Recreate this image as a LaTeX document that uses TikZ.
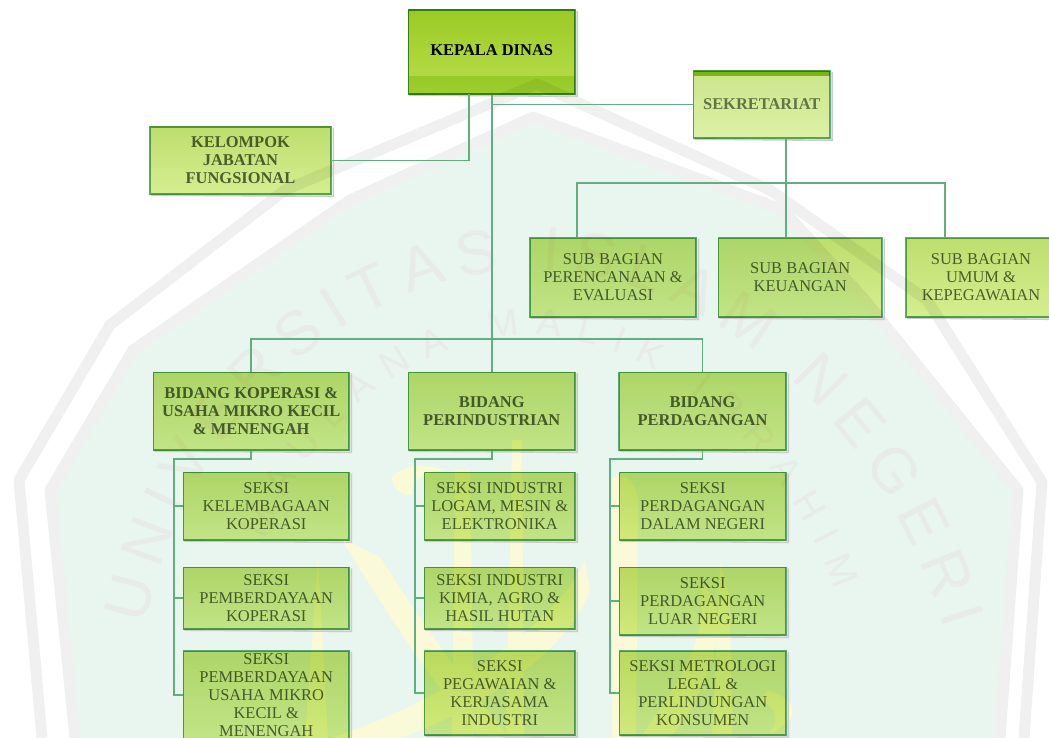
\documentclass[tikz,border=0pt]{standalone}
\usepackage{fontspec}
\setmainfont{Liberation Serif}
\setsansfont{Liberation Sans}
\usepackage{tikz}
\usetikzlibrary{decorations.text,calc}
\definecolor{lineGreen}{HTML}{62AE80}
\definecolor{boxTop}{HTML}{BEDE6F}
\definecolor{boxBottom}{HTML}{D5EE90}
\definecolor{boxText}{HTML}{5E6957}
\definecolor{markGray}{HTML}{EFF0EF}
\definecolor{markFill}{HTML}{E9F5EF}
\definecolor{markYellow}{HTML}{FBFAD8}
\definecolor{markText}{HTML}{E8ECE9}
\definecolor{KepalaTop}{HTML}{9BCA24}
\definecolor{KepalaBottom}{HTML}{B9DE4C}
\definecolor{KepalaLine}{HTML}{4A9E50}

\begin{document}
\begin{tikzpicture}[x=0.25mm,y=-0.25mm]
	\tikzstyle{Box}		= [rectangle, blend mode=multiply, draw=lineGreen, line width=0.35mm, top color=boxTop, bottom color=boxBottom, text=boxText, align=center, inner sep=0pt, font=\fontsize{11.7}{12.8}\selectfont, append after command={\pgfextra{\draw[gray!40, line width=0.4mm] ([shift={(0.4mm,-0.1mm)}]\tikzlastnode.south west) -- ([shift={(0.4mm,-0.4mm)}]\tikzlastnode.south west -| \tikzlastnode.east) -- ([shift={(0.4mm,-0.4mm)}]\tikzlastnode.north east);}}]
	\tikzstyle{Head}	= [Box, font=\fontsize{11.7}{12.8}\selectfont\bfseries]
	\tikzstyle{Chief}	= [Head, text=black, draw=KepalaLine, top color=KepalaTop, bottom color=KepalaBottom]
	\tikzstyle{Wire}	= [line width=0.38mm, lineGreen]
	\tikzstyle{Band}	= [markGray, line width=2.75mm, line join=round]

	\clip (0,0) rectangle (1049,738);

	% watermark
	\fill[markFill] (75,738) -- (50,490) -- (133,350) -- (350,200) -- (533,117) -- (783,210) -- (865,300) -- (1018,490) -- (1000,738) -- cycle;
	\draw[Band] (42,738) -- (19,480) -- (110,325) -- (285,190) -- (537,84) -- (770,190) -- (927,300) -- (1042,482) -- (1024,738);
	\draw[Band] (75,738) -- (50,490) -- (133,350) -- (350,200) -- (533,117) -- (783,210) -- (865,300) -- (1018,490) -- (1000,738);
	\path[decorate, decoration={text along path, text align={fit to path}, text={|\sffamily\fontsize{44}{44}\selectfont\color{markText}|UNIVERSITAS ISLAM NEGERI}}] (145,625) .. controls (200,370) and (400,265) .. (540,270) .. controls (720,280) and (880,420) .. (945,630);
	\path[decorate, decoration={text along path, text align={fit to path}, text={|\sffamily\fontsize{27}{27}\selectfont\color{markText}|MAULANA MALIK IBRAHIM}}] (265,540) .. controls (310,420) and (420,335) .. (530,335) .. controls (660,340) and (780,440) .. (835,590);
	\fill[markYellow] (340,537) -- (380,557) .. controls (420,620) and (470,690) .. (510,738) -- (480,738) .. controls (430,680) and (385,610) .. (340,537) -- cycle;
	\fill[markYellow] (318,557) -- (328,738) -- (305,738) -- cycle;
	\fill[markYellow] (392,478) .. controls (405,462) and (425,465) .. (445,470) .. controls (425,472) and (410,480) .. (412,495) .. controls (400,495) and (392,488) .. (392,478) -- cycle;
	\fill[markYellow] (455,470) -- (470,470) -- (474,738) -- (452,738) -- cycle;
	\fill[markYellow] (512,440) -- (522,440) -- (524,738) -- (506,738) -- cycle;
	\fill[markYellow] (610,480) .. controls (625,470) and (635,480) .. (638,500) -- (636,738) -- (612,738) -- cycle;
	\fill[markYellow] (720,563) -- (730,600) -- (732,738) -- (712,738) -- cycle;
	\fill[markYellow] (330,738) .. controls (450,700) and (560,620) .. (585,560) -- (590,590) .. controls (570,650) and (480,710) .. (400,738) -- cycle;
	\fill[markYellow] (640,738) .. controls (680,680) and (710,640) .. (700,580) -- (715,600) .. controls (725,650) and (700,700) .. (670,738) -- cycle;
	\fill[markYellow] (760,700) .. controls (775,705) and (780,720) .. (770,733) .. controls (790,725) and (810,705) .. (768,690) -- cycle;

	\node (kepala) at (491.75,52) [Chief, minimum width=41.6mm, minimum height=21mm, path picture={\fill[white!45!KepalaBottom] (path picture bounding box.south west) rectangle ([yshift=4.5mm]path picture bounding box.south east);}] {\raisebox{0.9mm}{KEPALA DINAS}};
	\node (sekretariat) at (761.75,104.5) [Head, text=boxText!85, minimum width=34.1mm, minimum height=16.75mm, top color=boxTop!80!white, bottom color=boxBottom!80!white, path picture={\fill[KepalaTop] (path picture bounding box.north west) rectangle ([yshift=-1.25mm]path picture bounding box.north east);}] {SEKRETARIAT};
	\node (kelompok) at (240.5,160.5) [Head, minimum width=45.25mm, minimum height=16.75mm] {KELOMPOK\\JABATAN\\FUNGSIONAL};

	\node (perencanaan) at (613,277.5) [Box, minimum width=41.5mm, minimum height=19.75mm] {SUB BAGIAN\\PERENCANAAN \&\\EVALUASI};
	\node (keuangan) at (800.25,277.5) [Box, minimum width=40.9mm, minimum height=19.75mm] {SUB BAGIAN\\KEUANGAN};
	\node (umum) at (981,277.5) [Box, minimum width=37.5mm, minimum height=19.75mm] {SUB BAGIAN\\UMUM \&\\KEPEGAWAIAN};

	\node (koperasi) at (251.25,411.25) [Head, minimum width=48.9mm, minimum height=19.4mm] {BIDANG KOPERASI \&\\USAHA MIKRO KECIL\\\& MENENGAH};
	\node (perindustrian) at (491.75,411.25) [Head, minimum width=41.6mm, minimum height=19.4mm] {BIDANG\\PERINDUSTRIAN};
	\node (perdagangan) at (702.5,411.25) [Head, minimum width=41.75mm, minimum height=19.4mm] {BIDANG\\PERDAGANGAN};

	\node (seksiA) at (266.25,506.25) [Box, minimum width=41.4mm, minimum height=16.9mm] {SEKSI\\KELEMBAGAAN\\KOPERASI};
	\node (seksiB) at (266.25,598.25) [Box, minimum width=41.4mm, minimum height=15.4mm] {SEKSI\\PEMBERDAYAAN\\KOPERASI};
	\node (seksiC) at (266.25,695) [Box, minimum width=41.4mm, minimum height=22mm] {SEKSI\\PEMBERDAYAAN\\USAHA MIKRO\\KECIL \&\\MENENGAH};

	\node (seksiD) at (499.75,506.25) [Box, minimum width=37.6mm, minimum height=16.9mm] {SEKSI INDUSTRI\\LOGAM, MESIN \&\\ELEKTRONIKA};
	\node (seksiE) at (499.75,598.25) [Box, minimum width=37.6mm, minimum height=15.4mm] {SEKSI INDUSTRI\\KIMIA, AGRO \&\\HASIL HUTAN};
	\node (seksiF) at (499.75,693) [Box, minimum width=37.6mm, minimum height=21mm] {SEKSI\\PEGAWAIAN \&\\KERJASAMA\\INDUSTRI};

	\node (seksiG) at (702.75,506.25) [Box, minimum width=41.6mm, minimum height=16.9mm] {SEKSI\\PERDAGANGAN\\DALAM NEGERI};
	\node (seksiH) at (702.75,601.25) [Box, minimum width=41.6mm, minimum height=16.9mm] {SEKSI\\PERDAGANGAN\\LUAR NEGERI};
	\node (seksiI) at (702.75,693) [Box, minimum width=41.6mm, minimum height=21mm] {SEKSI METROLOGI\\LEGAL \&\\PERLINDUNGAN\\KONSUMEN};

	\coordinate (kepalaKiri) at (469,94);
	\coordinate (busBidang) at (491.75,339);
	\coordinate (busSub) at (786,183);
	\coordinate (subKiri) at (577,183);
	\coordinate (subKanan) at (945,183);
	\coordinate (busA) at (174,459);
	\coordinate (busB) at (415,459);
	\coordinate (busC) at (610,459);

	\draw [Wire] (kepalaKiri) |- (kelompok.east);
	\draw [Wire] (kepala.south) to (perindustrian.north);
	\draw [Wire] (sekretariat.west) -| (kepala.south);
	\draw [Wire] (koperasi.north) |- (busBidang) -| (perdagangan.north);

	\draw [Wire] (sekretariat.south -| busSub) to (keuangan.north -| busSub);
	\draw [Wire] (perencanaan.north -| subKiri) |- (subKanan) -- (umum.north -| subKanan);

	\draw [Wire] (koperasi.south) |- (busA) |- (seksiC.west);
	\draw [Wire] (busA |- seksiA.west) to (seksiA.west);
	\draw [Wire] (busA |- seksiB.west) to (seksiB.west);

	\draw [Wire] (perindustrian.south) |- (busB) |- (seksiF.west);
	\draw [Wire] (busB |- seksiD.west) to (seksiD.west);
	\draw [Wire] (busB |- seksiE.west) to (seksiE.west);

	\draw [Wire] (perdagangan.south) |- (busC) |- (seksiI.west);
	\draw [Wire] (busC |- seksiG.west) to (seksiG.west);
	\draw [Wire] (busC |- seksiH.west) to (seksiH.west);
\end{tikzpicture}
\end{document}
